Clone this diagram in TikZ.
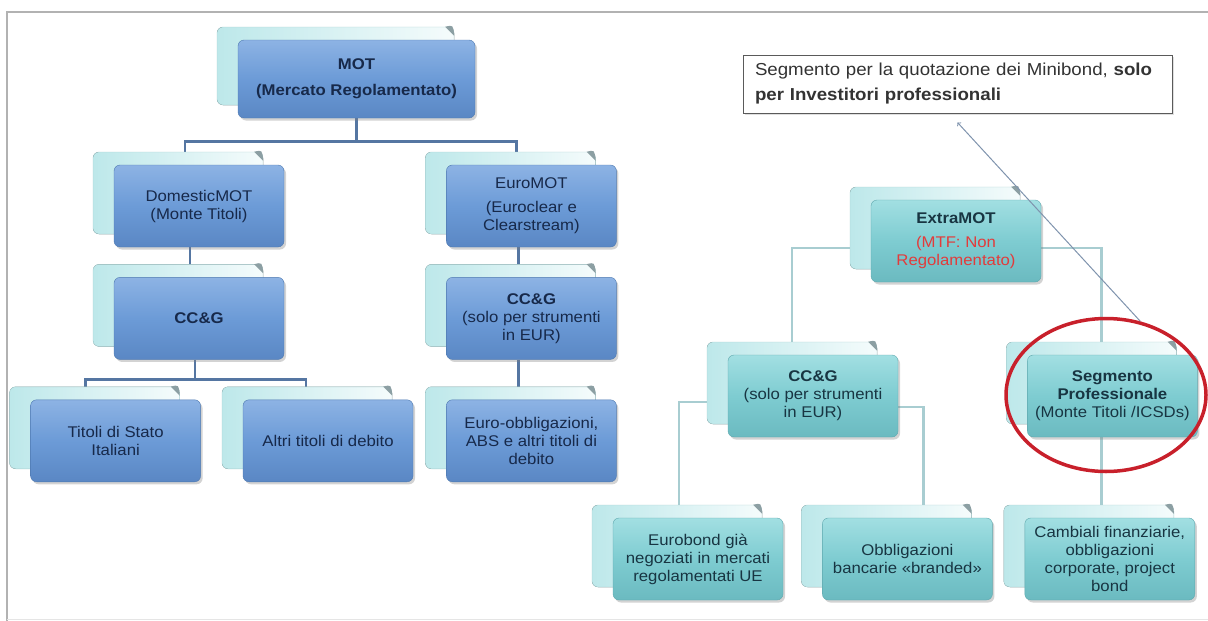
\documentclass[tikz,border=0pt]{standalone}
\usepackage{fontspec}
\setmainfont{Liberation Sans}[FakeStretch=1.08]
\usetikzlibrary{shapes, arrows, calc, positioning, shadows, backgrounds}
\definecolor{bluetop}{HTML}{8DB3E4}
\definecolor{bluemid}{HTML}{6C9BD7}
\definecolor{bluebot}{HTML}{5A87C4}
\definecolor{blueedge}{HTML}{4E79B0}
\definecolor{bluetext}{HTML}{17294A}
\definecolor{tealtop}{HTML}{A2DFE2}
\definecolor{tealmid}{HTML}{7ECCD1}
\definecolor{tealbot}{HTML}{6BBAC0}
\definecolor{tealedge}{HTML}{5FA8AE}
\definecolor{tealtext}{HTML}{183542}
\definecolor{pagecyan}{HTML}{BDE8EA}
\definecolor{pageedge}{HTML}{A9CFD1}
\definecolor{curlgray}{HTML}{8C9FA3}
\definecolor{bluewire}{HTML}{5576A2}
\definecolor{tealwire}{HTML}{A8CDD1}
\definecolor{ringred}{HTML}{C8202B}
\definecolor{mtfred}{HTML}{E23B3B}
\definecolor{arrowgray}{HTML}{7F93AD}
\definecolor{notegray}{HTML}{5A5A5A}
\tikzstyle{card} = [rectangle, rounded corners=6pt, text centered, align=center, minimum width=170pt, minimum height=82pt, inner sep=2pt, font=\fontsize{15.5}{18}\selectfont, copy shadow={shadow xshift=-21pt, shadow yshift=13pt, draw=pageedge, thin, left color=pagecyan, right color=white!85!pagecyan}, drop shadow={shadow xshift=2pt, shadow yshift=-2.5pt, opacity=0.35}]
\tikzstyle{bluecard} = [card, draw=blueedge, top color=bluetop, bottom color=bluebot, middle color=bluemid, text=bluetext]
\tikzstyle{tealcard} = [card, draw=tealedge, top color=tealtop, bottom color=tealbot, middle color=tealmid, text=tealtext]
\tikzstyle{curl} = [fill=curlgray]
\tikzstyle{blueconn} = [draw=bluewire, line width=2.6pt]
\tikzstyle{tealconn} = [draw=tealwire, line width=2.6pt]
\tikzstyle{pointerline} = [draw=arrowgray, line width=1pt, -to]
\tikzstyle{pageframe} = [draw=gray!60, line width=1.5pt]

\begin{document}
\begin{tikzpicture}[x=1pt, y=-1pt, node distance=30pt]
\useasboundingbox (0,0) rectangle (1208,621);
\path [pageframe] (1208,12) -- (7,12) -- (7,621);
\path [draw=gray!20, line width=1pt] (7,619) -- (1208,619);
% MOT side
\node [bluecard, minimum width=237pt, minimum height=78pt, font=\bfseries\fontsize{15.5}{18}\selectfont] (mot) at (356.5,79) {MOT\\[8pt](Mercato Regolamentato)};
\node [bluecard] (dommot) at (199,206) {DomesticMOT\\(Monte Titoli)};
\node [bluecard, below=of dommot] (ccgl) {\textbf{CC\&G}};
\node [bluecard, right=162pt of dommot] (euromot) {EuroMOT\\[6pt](Euroclear e\\Clearstream)};
\node [bluecard, below=of euromot] (ccgr) {\textbf{CC\&G}\\(solo per strumenti\\in EUR)};
\node [bluecard, below=40pt of ccgr] (euroobb) {Euro-obbligazioni,\\ABS e altri titoli di\\debito};
\node [bluecard, left=33pt of euroobb] (altri) {Altri titoli di debito};
\node [bluecard, left=42pt of altri] (titoli) {Titoli di Stato\\Italiani};
% ExtraMOT side
\node [tealcard] (extramot) at (956,241) {\textbf{ExtraMOT}\\[6pt]\textcolor{mtfred}{(MTF: Non}\\\textcolor{mtfred}{Regolamentato)}};
\node [tealcard] (ccgx) at (813,396) {\textbf{CC\&G}\\(solo per strumenti\\in EUR)};
\node [tealcard, right=129pt of ccgx] (segprof) {\textbf{Segmento}\\\textbf{Professionale}\\(Monte Titoli /ICSDs)};
\node [tealcard] (eurobond) at (698,559) {Eurobond già\\negoziati in mercati\\regolamentati UE};
\node [tealcard, right=39pt of eurobond] (obblig) {Obbligazioni\\bancarie «branded»};
\node [tealcard, right=32pt of obblig] (cambiali) {Cambiali finanziarie,\\obbligazioni\\corporate, project\\bond};
% page curls
\foreach \c in {mot,dommot,ccgl,euromot,ccgr,euroobb,altri,titoli,extramot,ccgx,segprof,eurobond,obblig,cambiali}
  \path [curl] ([xshift=-30pt,yshift=13pt]\c.north east) .. controls ([xshift=-22pt,yshift=15pt]\c.north east) .. ([xshift=-21pt,yshift=4pt]\c.north east) -- cycle;
% note
\node [draw=notegray, fill=white, line width=1pt, text width=405pt, inner xsep=12pt, minimum height=58pt, align=left, font=\fontsize{17.3}{25}\selectfont, text=black!80, drop shadow={shadow xshift=1.5pt, shadow yshift=-1.5pt, opacity=0.25}] (note) at (957.5,84) {Segmento per la quotazione dei Minibond, \textbf{solo}\\\textbf{per Investitori professionali}};
\begin{scope}[on background layer]
\path [blueconn] (mot.south) -- ++(0,23) -| ([xshift=-14pt]dommot.north);
\path [blueconn] (mot.south) -- ++(0,23) -| ([xshift=-15pt]euromot.north);
\path [blueconn] ([xshift=-9pt]dommot.south) -- ([xshift=-9pt]ccgl.north);
\path [blueconn] ([xshift=-4pt]ccgl.south) -- ++(0,20) -| ([xshift=-30pt]titoli.north);
\path [blueconn] ([xshift=-4pt]ccgl.south) -- ++(0,20) -| ([xshift=-22pt]altri.north);
\path [blueconn] ([xshift=-13pt]euromot.south) -- ([xshift=-13pt]ccgr.north);
\path [blueconn] ([xshift=-13pt]ccgr.south) -- ([xshift=-13pt]euroobb.north);
\path [tealconn] ([yshift=-7pt]extramot.west) -| ([xshift=-21pt]ccgx.north);
\path [tealconn] ([yshift=-7pt]extramot.east) -| ([xshift=-11pt]segprof.north);
\path [tealconn] ([yshift=-6pt]ccgx.west) -| ([xshift=-19pt]eurobond.north);
\path [tealconn] ([yshift=-11pt]ccgx.east) -| ([xshift=16pt]obblig.north);
\path [tealconn] ([xshift=-11pt]segprof.south) -- ([xshift=-11pt]segprof.south |- cambiali.north);
\end{scope}
\node [ellipse, draw=ringred, line width=3.5pt, minimum width=200pt, minimum height=153pt] (ring) at (1106,395) {};
\path [pointerline] (ring.65) -- ([yshift=-9pt]note.south);
\end{tikzpicture}
\end{document}
